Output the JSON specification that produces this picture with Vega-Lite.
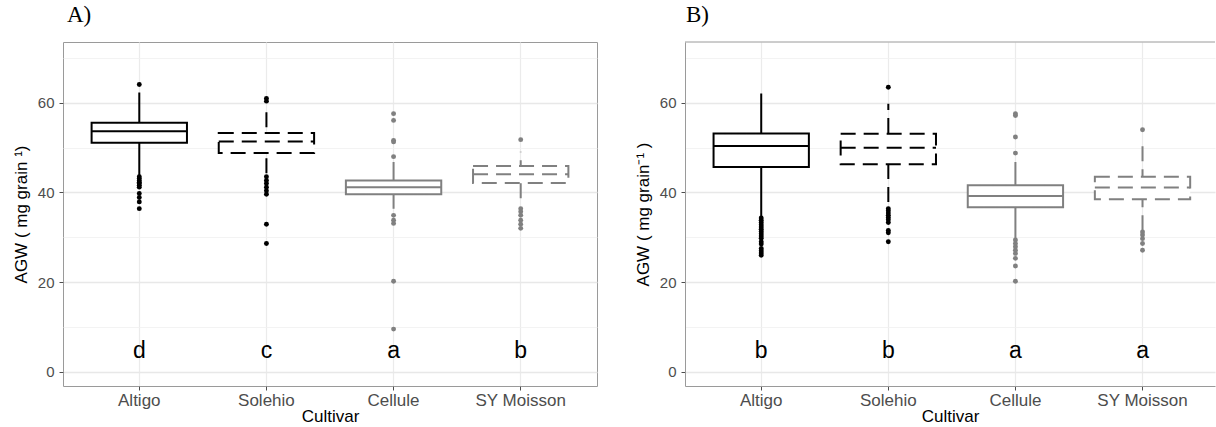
{
  "$schema": "https://vega.github.io/schema/vega-lite/v6.json",
  "background": "white",
  "padding": {"left": 11, "top": 3, "right": 0, "bottom": 0},
  "spacing": 36,
  "config": {
    "font": "Liberation Sans",
    "view": {"stroke": null},
    "axis": {
      "labelFont": "Liberation Sans", "titleFont": "Liberation Sans",
      "labelFontSize": 15, "titleFontSize": 17,
      "labelColor": "#4d4d4d", "titleColor": "#000000", "titleFontWeight": "normal",
      "tickColor": "#4d4d4d", "tickSize": 4, "gridColor": "#ebebeb", "domainColor": "#9a9a9a"
    },
    "axisX": {"labelAngle": 0, "labelFontSize": 17, "labelPadding": 2, "titlePadding": 0, "gridWidth": 1.2},
    "axisY": {"labelPadding": 5, "titlePadding": 7},
    "title": {"font": "Liberation Serif", "fontSize": 23, "fontWeight": "normal", "color": "#000000", "anchor": "start", "frame": "group", "baseline": "alphabetic", "offset": 15}
  },
  "datasets": {
    "stats": [
      {"panel": "A", "cultivar": "Altigo", "lower": 43.9, "q1": 51.1, "median": 53.7, "q3": 55.6, "upper": 62.3, "letter": "d"},
      {"panel": "A", "cultivar": "Solehio", "lower": 44.3, "q1": 48.8, "median": 51.4, "q3": 53.3, "upper": 59.1, "letter": "c"},
      {"panel": "A", "cultivar": "Cellule", "lower": 36.4, "q1": 39.6, "median": 41.2, "q3": 42.7, "upper": 46.8, "letter": "a"},
      {"panel": "A", "cultivar": "SY Moisson", "lower": 38.7, "q1": 42.1, "median": 44.1, "q3": 45.9, "upper": 49.1, "letter": "b"},
      {"panel": "B", "cultivar": "Altigo", "lower": 34.6, "q1": 45.7, "median": 50.4, "q3": 53.2, "upper": 62.1, "letter": "b"},
      {"panel": "B", "cultivar": "Solehio", "lower": 37.9, "q1": 46.3, "median": 50.0, "q3": 53.1, "upper": 59.8, "letter": "b"},
      {"panel": "B", "cultivar": "Cellule", "lower": 29.7, "q1": 36.7, "median": 39.2, "q3": 41.6, "upper": 46.8, "letter": "a"},
      {"panel": "B", "cultivar": "SY Moisson", "lower": 31.6, "q1": 38.5, "median": 41.1, "q3": 43.5, "upper": 51.5, "letter": "a"}
    ],
    "outliers": [
      {"panel": "A", "cultivar": "Altigo", "agw": 64.1}, {"panel": "A", "cultivar": "Altigo", "agw": 43.5}, {"panel": "A", "cultivar": "Altigo", "agw": 43.1}, {"panel": "A", "cultivar": "Altigo", "agw": 42.7}, {"panel": "A", "cultivar": "Altigo", "agw": 42.3}, {"panel": "A", "cultivar": "Altigo", "agw": 42.0}, {"panel": "A", "cultivar": "Altigo", "agw": 41.6}, {"panel": "A", "cultivar": "Altigo", "agw": 41.2}, {"panel": "A", "cultivar": "Altigo", "agw": 39.8}, {"panel": "A", "cultivar": "Altigo", "agw": 38.9}, {"panel": "A", "cultivar": "Altigo", "agw": 37.9}, {"panel": "A", "cultivar": "Altigo", "agw": 36.4},
      {"panel": "A", "cultivar": "Solehio", "agw": 61.0}, {"panel": "A", "cultivar": "Solehio", "agw": 60.4}, {"panel": "A", "cultivar": "Solehio", "agw": 43.5}, {"panel": "A", "cultivar": "Solehio", "agw": 42.7}, {"panel": "A", "cultivar": "Solehio", "agw": 42.0}, {"panel": "A", "cultivar": "Solehio", "agw": 41.2}, {"panel": "A", "cultivar": "Solehio", "agw": 40.4}, {"panel": "A", "cultivar": "Solehio", "agw": 39.6}, {"panel": "A", "cultivar": "Solehio", "agw": 32.9}, {"panel": "A", "cultivar": "Solehio", "agw": 28.6},
      {"panel": "A", "cultivar": "Cellule", "agw": 57.6}, {"panel": "A", "cultivar": "Cellule", "agw": 56.1}, {"panel": "A", "cultivar": "Cellule", "agw": 51.6}, {"panel": "A", "cultivar": "Cellule", "agw": 51.3}, {"panel": "A", "cultivar": "Cellule", "agw": 48.0}, {"panel": "A", "cultivar": "Cellule", "agw": 34.9}, {"panel": "A", "cultivar": "Cellule", "agw": 33.8}, {"panel": "A", "cultivar": "Cellule", "agw": 33.1}, {"panel": "A", "cultivar": "Cellule", "agw": 20.2}, {"panel": "A", "cultivar": "Cellule", "agw": 9.5},
      {"panel": "A", "cultivar": "SY Moisson", "agw": 51.8}, {"panel": "A", "cultivar": "SY Moisson", "agw": 36.4}, {"panel": "A", "cultivar": "SY Moisson", "agw": 35.7}, {"panel": "A", "cultivar": "SY Moisson", "agw": 34.9}, {"panel": "A", "cultivar": "SY Moisson", "agw": 33.8}, {"panel": "A", "cultivar": "SY Moisson", "agw": 32.9}, {"panel": "A", "cultivar": "SY Moisson", "agw": 32.0},
      {"panel": "B", "cultivar": "Altigo", "agw": 34.3}, {"panel": "B", "cultivar": "Altigo", "agw": 33.8}, {"panel": "B", "cultivar": "Altigo", "agw": 33.3}, {"panel": "B", "cultivar": "Altigo", "agw": 32.8}, {"panel": "B", "cultivar": "Altigo", "agw": 32.3}, {"panel": "B", "cultivar": "Altigo", "agw": 31.8}, {"panel": "B", "cultivar": "Altigo", "agw": 31.3}, {"panel": "B", "cultivar": "Altigo", "agw": 30.8}, {"panel": "B", "cultivar": "Altigo", "agw": 30.3}, {"panel": "B", "cultivar": "Altigo", "agw": 29.8}, {"panel": "B", "cultivar": "Altigo", "agw": 29.0}, {"panel": "B", "cultivar": "Altigo", "agw": 28.5}, {"panel": "B", "cultivar": "Altigo", "agw": 27.5}, {"panel": "B", "cultivar": "Altigo", "agw": 27.0}, {"panel": "B", "cultivar": "Altigo", "agw": 26.5}, {"panel": "B", "cultivar": "Altigo", "agw": 26.0},
      {"panel": "B", "cultivar": "Solehio", "agw": 63.5}, {"panel": "B", "cultivar": "Solehio", "agw": 36.4}, {"panel": "B", "cultivar": "Solehio", "agw": 35.9}, {"panel": "B", "cultivar": "Solehio", "agw": 35.4}, {"panel": "B", "cultivar": "Solehio", "agw": 34.9}, {"panel": "B", "cultivar": "Solehio", "agw": 34.4}, {"panel": "B", "cultivar": "Solehio", "agw": 33.9}, {"panel": "B", "cultivar": "Solehio", "agw": 33.3}, {"panel": "B", "cultivar": "Solehio", "agw": 31.5}, {"panel": "B", "cultivar": "Solehio", "agw": 31.0}, {"panel": "B", "cultivar": "Solehio", "agw": 29.0},
      {"panel": "B", "cultivar": "Cellule", "agw": 57.6}, {"panel": "B", "cultivar": "Cellule", "agw": 57.2}, {"panel": "B", "cultivar": "Cellule", "agw": 52.4}, {"panel": "B", "cultivar": "Cellule", "agw": 48.8}, {"panel": "B", "cultivar": "Cellule", "agw": 29.4}, {"panel": "B", "cultivar": "Cellule", "agw": 28.6}, {"panel": "B", "cultivar": "Cellule", "agw": 27.9}, {"panel": "B", "cultivar": "Cellule", "agw": 27.1}, {"panel": "B", "cultivar": "Cellule", "agw": 26.4}, {"panel": "B", "cultivar": "Cellule", "agw": 25.3}, {"panel": "B", "cultivar": "Cellule", "agw": 23.6}, {"panel": "B", "cultivar": "Cellule", "agw": 20.2},
      {"panel": "B", "cultivar": "SY Moisson", "agw": 54.0}, {"panel": "B", "cultivar": "SY Moisson", "agw": 31.2}, {"panel": "B", "cultivar": "SY Moisson", "agw": 30.5}, {"panel": "B", "cultivar": "SY Moisson", "agw": 29.7}, {"panel": "B", "cultivar": "SY Moisson", "agw": 28.6}, {"panel": "B", "cultivar": "SY Moisson", "agw": 27.1}
    ]
  },
  "hconcat": [
    {
      "title": {"text": "A)", "dx": 4},
      "width": 534, "height": 344,
      "view": {"stroke": "#9a9a9a"},
      "layer": [
        {
          "data": {"name": "stats"},
          "transform": [{"filter": "datum.panel === 'A'"}],
          "mark": {"type": "rule", "strokeWidth": 2},
          "encoding": {
            "x": {"field": "cultivar", "type": "nominal", "title": "Cultivar", "sort": ["Altigo", "Solehio", "Cellule", "SY Moisson"],
                  "scale": {"paddingInner": 0.25, "paddingOuter": 0.225},
                  "axis": {"domain": false, "grid": true}},
            "y": {"field": "lower", "type": "quantitative", "title": "AGW ( mg grain  ¹)",
                  "scale": {"domain": [-3.2, 73.6], "nice": false, "zero": false},
                  "axis": {"domain": false, "grid": true, "values": [0, 10, 20, 30, 40, 50, 60, 70],
                           "labelExpr": "datum.value % 20 === 0 ? datum.label : ''",
                           "tickOpacity": {"condition": {"test": "datum.value % 20 === 0", "value": 1}, "value": 0},
                           "gridWidth": {"condition": {"test": "datum.value % 20 === 0", "value": 1.3}, "value": 0.8},
                           "gridColor": {"condition": {"test": "datum.value % 20 === 0", "value": "#e8e8e8"}, "value": "#f0f0f0"}}},
            "y2": {"field": "upper"},
            "stroke": {"field": "cultivar", "type": "nominal", "legend": null, "scale": {"domain": ["Altigo", "Solehio", "Cellule", "SY Moisson"], "range": ["#000000", "#000000", "#808080", "#808080"]}},
            "strokeDash": {"field": "cultivar", "type": "nominal", "legend": null, "scale": {"domain": ["Altigo", "Solehio", "Cellule", "SY Moisson"], "range": [[1, 0], [15, 8], [1, 0], [15, 8]]}}
          }
        },
        {
          "data": {"name": "stats"},
          "transform": [{"filter": "datum.panel === 'A'"}],
          "mark": {"type": "bar", "fill": "white", "strokeWidth": 2},
          "encoding": {
            "x": {"field": "cultivar", "type": "nominal", "title": "Cultivar", "sort": ["Altigo", "Solehio", "Cellule", "SY Moisson"]},
            "y": {"field": "q1", "type": "quantitative", "title": "AGW ( mg grain  ¹)"},
            "y2": {"field": "q3"},
            "stroke": {"field": "cultivar", "type": "nominal", "legend": null},
            "strokeDash": {"field": "cultivar", "type": "nominal", "legend": null}
          }
        },
        {
          "data": {"name": "stats"},
          "transform": [{"filter": "datum.panel === 'A'"}],
          "mark": {"type": "rule", "strokeWidth": 2},
          "encoding": {
            "x": {"field": "cultivar", "type": "nominal", "title": "Cultivar", "sort": ["Altigo", "Solehio", "Cellule", "SY Moisson"], "bandPosition": 0},
            "x2": {"field": "cultivar", "bandPosition": 1},
            "y": {"field": "median", "type": "quantitative", "title": "AGW ( mg grain  ¹)"},
            "stroke": {"field": "cultivar", "type": "nominal", "legend": null},
            "strokeDash": {"field": "cultivar", "type": "nominal", "legend": null}
          }
        },
        {
          "data": {"name": "outliers"},
          "transform": [{"filter": "datum.panel === 'A'"}],
          "mark": {"type": "circle", "size": 24, "opacity": 1},
          "encoding": {
            "x": {"field": "cultivar", "type": "nominal", "title": "Cultivar", "sort": ["Altigo", "Solehio", "Cellule", "SY Moisson"]},
            "y": {"field": "agw", "type": "quantitative", "title": "AGW ( mg grain  ¹)"},
            "color": {"field": "cultivar", "type": "nominal", "legend": null, "scale": {"domain": ["Altigo", "Solehio", "Cellule", "SY Moisson"], "range": ["#000000", "#000000", "#808080", "#808080"]}}
          }
        },
        {
          "data": {"name": "stats"},
          "transform": [{"filter": "datum.panel === 'A'"}],
          "mark": {"type": "text", "fontSize": 23, "font": "Liberation Sans", "color": "#000000", "baseline": "alphabetic"},
          "encoding": {
            "x": {"field": "cultivar", "type": "nominal", "title": "Cultivar", "sort": ["Altigo", "Solehio", "Cellule", "SY Moisson"]},
            "y": {"datum": 3.0, "type": "quantitative"},
            "text": {"field": "letter"}
          }
        }
      ]
    },
    {
      "title": {"text": "B)", "dx": 1},
      "width": 530, "height": 344,
      "view": {"stroke": null},
      "layer": [
        {
          "data": {"name": "stats"},
          "transform": [{"filter": "datum.panel === 'B'"}],
          "mark": {"type": "rule", "strokeWidth": 2},
          "encoding": {
            "x": {"field": "cultivar", "type": "nominal", "title": "Cultivar", "sort": ["Altigo", "Solehio", "Cellule", "SY Moisson"],
                  "scale": {"paddingInner": 0.25, "paddingOuter": 0.21, "align": 0.535},
                  "axis": {"domain": true, "grid": true}},
            "y": {"field": "lower", "type": "quantitative", "title": "AGW ( mg grain⁻¹ )",
                  "scale": {"domain": [-3.2, 73.6], "nice": false, "zero": false},
                  "axis": {"domain": true, "grid": true, "values": [0, 10, 20, 30, 40, 50, 60, 70],
                           "labelExpr": "datum.value % 20 === 0 ? datum.label : ''",
                           "tickOpacity": {"condition": {"test": "datum.value % 20 === 0", "value": 1}, "value": 0},
                           "gridWidth": {"condition": {"test": "datum.value % 20 === 0", "value": 1.3}, "value": 0.8},
                           "gridColor": {"condition": {"test": "datum.value % 20 === 0", "value": "#e8e8e8"}, "value": "#f0f0f0"}}},
            "y2": {"field": "upper"},
            "stroke": {"field": "cultivar", "type": "nominal", "legend": null, "scale": {"domain": ["Altigo", "Solehio", "Cellule", "SY Moisson"], "range": ["#000000", "#000000", "#808080", "#808080"]}},
            "strokeDash": {"field": "cultivar", "type": "nominal", "legend": null, "scale": {"domain": ["Altigo", "Solehio", "Cellule", "SY Moisson"], "range": [[1, 0], [15, 8], [1, 0], [15, 8]]}}
          }
        },
        {
          "data": {"name": "stats"},
          "transform": [{"filter": "datum.panel === 'B'"}],
          "mark": {"type": "bar", "fill": "white", "strokeWidth": 2},
          "encoding": {
            "x": {"field": "cultivar", "type": "nominal", "title": "Cultivar", "sort": ["Altigo", "Solehio", "Cellule", "SY Moisson"]},
            "y": {"field": "q1", "type": "quantitative", "title": "AGW ( mg grain⁻¹ )"},
            "y2": {"field": "q3"},
            "stroke": {"field": "cultivar", "type": "nominal", "legend": null},
            "strokeDash": {"field": "cultivar", "type": "nominal", "legend": null}
          }
        },
        {
          "data": {"name": "stats"},
          "transform": [{"filter": "datum.panel === 'B'"}],
          "mark": {"type": "rule", "strokeWidth": 2},
          "encoding": {
            "x": {"field": "cultivar", "type": "nominal", "title": "Cultivar", "sort": ["Altigo", "Solehio", "Cellule", "SY Moisson"], "bandPosition": 0},
            "x2": {"field": "cultivar", "bandPosition": 1},
            "y": {"field": "median", "type": "quantitative", "title": "AGW ( mg grain⁻¹ )"},
            "stroke": {"field": "cultivar", "type": "nominal", "legend": null},
            "strokeDash": {"field": "cultivar", "type": "nominal", "legend": null}
          }
        },
        {
          "data": {"name": "outliers"},
          "transform": [{"filter": "datum.panel === 'B'"}],
          "mark": {"type": "circle", "size": 24, "opacity": 1},
          "encoding": {
            "x": {"field": "cultivar", "type": "nominal", "title": "Cultivar", "sort": ["Altigo", "Solehio", "Cellule", "SY Moisson"]},
            "y": {"field": "agw", "type": "quantitative", "title": "AGW ( mg grain⁻¹ )"},
            "color": {"field": "cultivar", "type": "nominal", "legend": null, "scale": {"domain": ["Altigo", "Solehio", "Cellule", "SY Moisson"], "range": ["#000000", "#000000", "#808080", "#808080"]}}
          }
        },
        {
          "data": {"name": "stats"},
          "transform": [{"filter": "datum.panel === 'B'"}],
          "mark": {"type": "text", "fontSize": 23, "font": "Liberation Sans", "color": "#000000", "baseline": "alphabetic"},
          "encoding": {
            "x": {"field": "cultivar", "type": "nominal", "title": "Cultivar", "sort": ["Altigo", "Solehio", "Cellule", "SY Moisson"]},
            "y": {"datum": 3.0, "type": "quantitative"},
            "text": {"field": "letter"}
          }
        },
        {
          "data": {"values": [{}]},
          "mark": {"type": "rule", "color": "#9a9a9a", "strokeWidth": 1},
          "encoding": {"y": {"datum": 73.6, "type": "quantitative"}}
        }
      ]
    }
  ]
}
